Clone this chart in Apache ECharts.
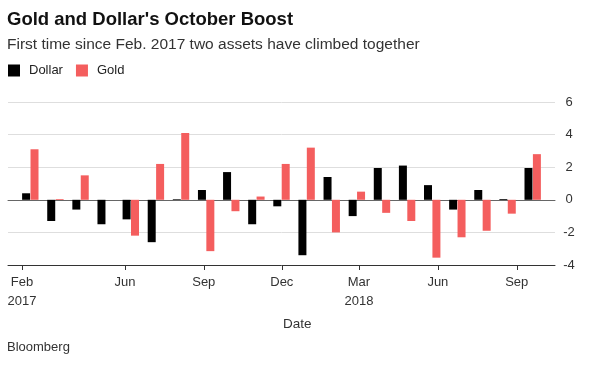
<!DOCTYPE html>
<html>
<head>
<meta charset="utf-8">
<script src="https://cdn.jsdelivr.net/npm/echarts@6/dist/echarts.min.js"></script>
<style>
html,body{margin:0;padding:0;background:#fff;}
#c{width:600px;height:365px;}
</style>
</head>
<body>
<div id="c"></div>
<script>
// Monthly changes (%), Feb 2017 .. Oct 2018
var months = ['2017-02','2017-03','2017-04','2017-05','2017-06','2017-07','2017-08','2017-09','2017-10','2017-11','2017-12',
              '2018-01','2018-02','2018-03','2018-04','2018-05','2018-06','2018-07','2018-08','2018-09','2018-10'];
var dollar = [0.4, -1.3, -0.6, -1.5, -1.2, -2.6, 0.04, 0.6, 1.7, -1.5, -0.4, -3.4, 1.4, -1.0, 1.95, 2.1, 0.9, -0.6, 0.6, 0.05, 1.95];
var gold   = [3.1, 0.05, 1.5, 0.0, -2.2, 2.2, 4.1, -3.15, -0.7, 0.2, 2.2, 3.2, -2.0, 0.5, -0.8, -1.3, -3.55, -2.3, -1.9, -0.85, 2.8];

// Date axis tick labels
var tickDates  = ['2017-02-01','2017-06-01','2017-09-01','2017-12-01','2018-03-01','2018-06-01','2018-09-01'];
var tickLabels = ['Feb\n2017','Jun','Sep','Dec','Mar\n2018','Jun','Sep'];

var yTicks = [-4, -2, 0, 2, 4, 6];

function ts(s){ var p = s.split('-'); return Date.UTC(+p[0], +p[1]-1, +p[2]); }
var DAY = 86400000;
var t0 = ts(tickDates[0]);
var tickDays = tickDates.map(function(s){ return Math.round((ts(s) - t0) / DAY); });

var FONT = 'Liberation Sans';

var chart = echarts.init(document.getElementById('c'), null, {renderer:'canvas'});
chart.setOption({
  animation: false,
  backgroundColor: '#fff',
  textStyle: {fontFamily: FONT},
  title: [{
    text: "Gold and Dollar's October Boost",
    left: 7, top: 10, padding: 0,
    textStyle: {fontFamily: FONT, fontWeight: 'bold', fontSize: 18.5, color: '#111'}
  },{
    text: 'First time since Feb. 2017 two assets have climbed together',
    left: 7, top: 37, padding: 0,
    textStyle: {fontFamily: FONT, fontWeight: 'normal', fontSize: 15.5, color: '#333'}
  }],
  legend: {
    left: 8, top: 64, padding: 0,
    icon: 'rect', itemWidth: 12, itemHeight: 12, itemGap: 13,
    textStyle: {fontFamily: FONT, fontSize: 13, color: '#222', padding: [0,0,0,4]},
    data: ['Dollar','Gold']
  },
  grid: {left: 8, right: 45, top: 102, bottom: 100, containLabel: false},
  xAxis: [{
    type: 'value',
    min: -0.888, max: 20.888,
    show: true,
    axisLine: {show: true, onZero: true, lineStyle: {color: '#666', width: 1}},
    axisTick: {show: false},
    axisLabel: {show: false},
    splitLine: {show: false}
  },{
    type: 'value',
    position: 'bottom',
    min: -16.33,
    max: 621.6,
    axisLine: {show: true, onZero: false, lineStyle: {color: '#333', width: 1}},
    axisTick: {show: true, length: 5, customValues: tickDays, lineStyle: {color: '#333'}},
    axisLabel: {
      show: true, customValues: tickDays, margin: 8,
      fontFamily: FONT, fontSize: 13, lineHeight: 19, color: '#333',
      formatter: function(v){ var k = tickDays.indexOf(Math.round(v)); return k >= 0 ? tickLabels[k] : ''; }
    },
    splitLine: {show: false}
  }],
  yAxis: {
    type: 'value',
    position: 'right',
    min: -4, max: 6, interval: 2,
    axisLine: {show: false},
    axisTick: {show: false},
    axisLabel: {align: 'center', margin: 14, fontFamily: FONT, fontSize: 13, color: '#333'},
    splitLine: {lineStyle: {color: '#dedede', width: 1}}
  },
  graphic: [{
    type: 'text', left: 283, top: 317,
    style: {text: 'Date', font: '13.5px "Liberation Sans"', fill: '#333'}
  },{
    type: 'text', left: 7, top: 341,
    style: {text: 'Bloomberg', font: '13px "Liberation Sans"', fill: '#333'}
  }],
  series: [{
    name: 'Dollar', type: 'bar', xAxisIndex: 0,
    barWidth: 8, barGap: '5%',
    itemStyle: {color: '#000'},
    data: dollar.map(function(v,i){ return [i, v]; })
  },{
    name: 'Gold', type: 'bar', xAxisIndex: 0,
    barWidth: 8, barGap: '5%',
    itemStyle: {color: '#f45e5e'},
    data: gold.map(function(v,i){ return [i, v]; })
  }]
});
</script>
</body>
</html>
